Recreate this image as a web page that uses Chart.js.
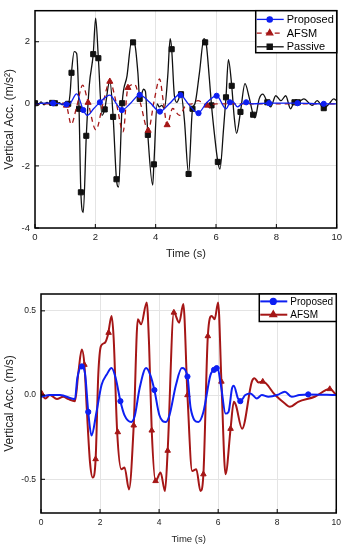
<!DOCTYPE html>
<html>
<head>
<meta charset="utf-8">
<script src="https://cdn.jsdelivr.net/npm/chart.js@4.4.0/dist/chart.umd.min.js"></script>
<style>
  body { margin: 0; background: #fff; }
  canvas { display: block; }
</style>
</head>
<body>
<canvas id="topChart" width="346" height="275"></canvas>
<canvas id="bottomChart" width="346" height="275"></canvas>
<script>
// ---------- data: top chart (vertical acc., m/s^2) ----------
const topProposed = [[0,0],[0.3,0.02],[0.6,0.02],[0.85,0],[1.04,-0.02],[1.15,0],[1.38,0.32],[1.6,-0.2],[1.73,-0.37],
  [1.95,-0.15],[2.15,0.05],[2.48,0.28],[2.7,0],[2.88,-0.2],[3.15,0],[3.47,0.29],[3.8,0.05],[4.14,-0.25],[4.45,0],
  [4.8,0.3],[5.08,0],[5.4,-0.3],[5.7,0.05],[6.02,0.26],[6.33,-0.16],[6.46,0.05],[6.55,0.08],[6.71,-0.1],[6.85,0],
  [7.0,0.05],[7.2,0],[7.76,0.02],[8.7,0.02],[9.57,0],[10,0]];
const topProposedMarks = [[0.6,0.02],[1.04,-0.02],[1.6,-0.2],[2.15,0.05],[2.88,-0.2],[3.47,0.29],[4.14,-0.25],
  [4.82,0.28],[5.42,-0.3],[6.02,0.26],[6.46,0.05],[7.0,0.05],[7.76,0.02],[8.7,0.02],[9.57,0]];

const topAfsm = [[0,0],[0.5,0],[0.9,0.02],[1.04,-0.05],[1.2,-0.66],[1.38,-0.1],[1.58,0.6],[1.76,0.04],[2.02,-0.84],
  [2.25,0],[2.48,0.72],[2.7,0],[2.92,-0.9],[3.08,0.52],[3.3,0.63],[3.5,0],[3.75,-0.86],[3.95,0.1],[4.13,0.8],
  [4.25,0.1],[4.38,-0.68],[4.56,-0.15],[4.79,-0.37],[5.0,-0.05],[5.2,0],[5.4,0.1],[5.71,-0.05],[6.0,0],[10,0]];
const topAfsmMarks = [[1.04,-0.05],[1.76,0.04],[2.48,0.72],[3.08,0.52],[3.75,-0.86],[4.38,-0.68],[5.71,-0.05]];

const topPassive = [[0,0.02],[0.1,-0.05],[0.2,0.06],[0.3,-0.03],[0.4,0.05],[0.5,-0.02],[0.6,0.06],[0.7,-0.04],
  [0.8,0.04],[0.9,-0.03],[1.0,0.05],[1.1,0],[1.16,0.3],[1.21,1.0],[1.3,1.68],[1.38,1.62],[1.46,-0.16],[1.52,-2.85],
  [1.6,-3.5],[1.7,-1.03],[1.8,0.6],[1.93,1.6],[2.01,2.76],[2.1,1.47],[2.22,-0.37],[2.31,-0.18],[2.48,0.75],
  [2.59,-0.42],[2.7,-2.43],[2.77,-2.68],[2.89,0.02],[3.05,0.9],[3.2,2.0],[3.3,1.95],[3.41,1.0],[3.47,0.16],
  [3.6,0.47],[3.66,0.4],[3.74,-1.0],[3.9,-2.62],[3.94,-1.95],[4.05,0],[4.12,-0.1],[4.2,-0.05],[4.29,-0.15],
  [4.4,0.9],[4.48,2.1],[4.53,1.76],[4.62,0.26],[4.7,0.05],[4.84,0.31],[4.95,-0.5],[5.09,-2.26],[5.22,-0.16],
  [5.3,0],[5.45,1.0],[5.6,2.1],[5.68,1.9],[5.78,0.8],[5.85,-0.05],[5.95,-1.0],[6.06,-1.87],[6.13,-2.1],
  [6.25,-0.8],[6.33,0.21],[6.41,1.42],[6.52,0.58],[6.6,-0.4],[6.68,-0.95],[6.81,-0.26],[6.96,0.65],[7.1,0.2],
  [7.23,-0.35],[7.29,-0.45],[7.43,0.16],[7.55,0.31],[7.7,0.05],[7.81,-0.1],[7.98,0.26],[8.15,0.1],[8.31,0.26],
  [8.47,-0.16],[8.6,0.05],[8.71,0.05],[8.91,0.16],[9.19,-0.05],[9.35,0.1],[9.57,-0.14],[9.75,0],[9.9,0.16],[10,0.1]];
const topPassiveMarks = [[0,0.02],[0.57,0.03],[0.66,0.02],[1.1,0],[1.21,1.0],[1.46,-0.16],[1.52,-2.85],[1.7,-1.03],
  [1.93,1.6],[2.1,1.47],[2.31,-0.18],[2.59,-0.42],[2.7,-2.43],[2.89,0.02],[3.25,1.98],[3.47,0.16],[3.74,-1.0],
  [3.94,-1.95],[4.53,1.76],[4.84,0.31],[5.09,-2.26],[5.22,-0.16],[5.64,1.98],[5.85,-0.05],[6.06,-1.87],[6.33,0.21],
  [6.52,0.58],[6.81,-0.26],[7.23,-0.35],[7.7,0.05],[8.6,0.05],[8.71,0.05],[9.57,-0.14]];

const topYTicks = [-4, -2, 0, 2];

// ---------- data: bottom chart (vertical acc., m/s) ----------
const botProposed = [[0,-0.01],[0.31,0],[0.65,0],[1.04,-0.02],[1.15,-0.024],[1.23,0.1],[1.38,0.17],[1.49,0.13],
  [1.6,-0.1],[1.71,-0.24],[1.88,-0.1],[2.05,0.06],[2.22,0.12],[2.39,0.16],[2.53,0.1],[2.69,-0.036],[2.83,-0.12],
  [3.06,-0.16],[3.18,-0.12],[3.34,0.04],[3.56,0.16],[3.7,0.12],[3.84,0.03],[4.01,-0.12],[4.23,-0.16],[4.35,-0.12],
  [4.57,0.06],[4.77,0.16],[4.96,0.11],[5.07,-0.08],[5.33,-0.16],[5.5,-0.1],[5.74,0.12],[5.86,0.15],[5.98,0.16],
  [6.1,0.05],[6.25,-0.11],[6.35,-0.1],[6.47,0.04],[6.53,0.056],[6.67,-0.02],[6.75,-0.036],[6.92,0],[7.09,0.01],
  [7.31,-0.02],[7.48,0],[7.7,-0.01],[8.0,0],[8.26,0.02],[8.49,-0.01],[8.75,0],[9.05,0.004],[10,0]];
const botProposedMarks = [[1.38,0.17],[1.6,-0.1],[2.69,-0.036],[3.84,0.03],[4.96,0.11],[5.86,0.15],[5.95,0.16],
  [6.75,-0.036],[9.05,0.004]];

const botAfsm = [[0,0.01],[0.15,-0.02],[0.3,0],[0.54,-0.024],[0.75,-0.01],[0.93,-0.024],[1.15,-0.036],[1.27,0.14],
  [1.38,0.27],[1.47,0.18],[1.55,-0.08],[1.66,-0.4],[1.75,-0.49],[1.85,-0.38],[1.94,0.12],[2.03,0.29],[2.16,0.31],
  [2.27,0.36],[2.39,0.47],[2.46,0.34],[2.58,-0.22],[2.72,-0.44],[2.83,-0.43],[2.98,-0.56],[3.14,-0.18],[3.28,0.45],
  [3.39,0.42],[3.58,0.55],[3.66,0.3],[3.75,-0.21],[3.88,-0.51],[4.05,-0.46],[4.2,-0.57],[4.29,-0.33],[4.5,0.49],
  [4.68,0.43],[4.82,0.54],[4.96,0],[5.12,-0.45],[5.26,-0.44],[5.4,-0.57],[5.5,-0.47],[5.65,0.35],[5.78,0.47],
  [5.88,0.45],[6.0,0.55],[6.11,0.08],[6.25,-0.47],[6.42,-0.2],[6.53,-0.04],[6.6,-0.06],[6.81,-0.2],[7.14,0.08],
  [7.23,0.1],[7.37,0.075],[7.51,0.08],[7.93,0],[8.26,-0.05],[8.43,-0.07],[8.71,-0.04],[9.27,-0.01],[9.78,0.036],[10,0]];
const botAfsmMarks = [[0.02,0.01],[1.47,0.18],[1.85,-0.38],[2.29,0.37],[2.6,-0.22],[3.14,-0.18],[3.75,-0.21],
  [3.88,-0.51],[4.29,-0.33],[4.5,0.49],[4.96,0],[5.5,-0.47],[5.65,0.35],[6.11,0.08],[6.42,-0.2],[7.51,0.08],[9.78,0.036]];

const botYTicks = [-0.5, 0, 0.5];
const timeTicks = [0, 2, 4, 6, 8, 10];

const BLUE = "#0d1ff2";
const RED = "#a51616";
const BLACK = "#111111";

const pts = arr => arr.map(p => ({ x: p[0], y: p[1] }));

// ------------------- frame, inward ticks and legend -------------------
const framePlugin = {
  id: "frame",
  afterDraw(chart, args, opts) {
    const { ctx, chartArea: a, scales } = chart;
    ctx.save();
    ctx.strokeStyle = "#000";
    ctx.lineWidth = 1;
    ctx.beginPath();
    timeTicks.forEach(t => {
      const x = scales.x.getPixelForValue(t);
      ctx.moveTo(x, a.bottom); ctx.lineTo(x, a.bottom - 4);
    });
    opts.yTicks.forEach(v => {
      const y = scales.y.getPixelForValue(v);
      ctx.moveTo(a.left, y); ctx.lineTo(a.left + 4, y);
    });
    ctx.stroke();
    ctx.lineWidth = 1.5;
    ctx.strokeRect(a.left, a.top, a.right - a.left, a.bottom - a.top);

    // legend box
    const L = opts.legend;
    const bx = a.right - L.w, by = a.top;
    ctx.fillStyle = "#fff";
    ctx.fillRect(bx, by, L.w, L.h);
    ctx.lineWidth = 1.5;
    ctx.strokeRect(bx, by, L.w, L.h);
    L.items.forEach((ds, i) => {
      const y = by + L.first + i * L.row;
      ctx.strokeStyle = ds.color;
      ctx.lineWidth = L.lw;
      ctx.setLineDash(ds.dash || []);
      ctx.beginPath();
      ctx.moveTo(bx + 1, y); ctx.lineTo(bx + 28, y);
      ctx.stroke();
      ctx.setLineDash([]);
      ctx.fillStyle = ds.color;
      ctx.strokeStyle = ds.color;
      Chart.helpers.drawPoint(ctx, { pointStyle: ds.style, radius: ds.radius, rotation: 0, borderWidth: 1 }, bx + 14, y);
      ctx.fillStyle = "#000";
      ctx.font = L.font + "px 'Liberation Sans', Arial, sans-serif";
      ctx.textBaseline = "middle";
      ctx.textAlign = "left";
      ctx.fillText(ds.label, bx + 31, y + 0.5);
    });
    ctx.restore();
  }
};

function lineSet(label, data, color, width, dash, order) {
  return {
    type: "line", label, data: pts(data), borderColor: color, borderWidth: width,
    borderDash: dash, pointRadius: 0, cubicInterpolationMode: "monotone", fill: false, order
  };
}
function markSet(label, data, color, style, radius, order) {
  return {
    type: "scatter", label, data: pts(data), showLine: false, pointStyle: style, pointRadius: radius,
    backgroundColor: color, borderColor: color, borderWidth: 1, order
  };
}

function makeOptions(cfg) {
  const family = "'Liberation Sans', Arial, sans-serif";
  return {
    responsive: false,
    animation: false,
    layout: { padding: { top: cfg.padTop, right: 8, left: 0, bottom: 0 } },
    plugins: {
      legend: { display: false },
      tooltip: { enabled: false },
      frame: { yTicks: cfg.yTicks, legend: cfg.legend }
    },
    scales: {
      x: {
        type: "linear", min: 0, max: 10,
        afterFit: s => { s.height = cfg.xHeight; },
        afterBuildTicks: s => { s.ticks = timeTicks.map(v => ({ value: v })); },
        grid: { color: "#e4e4e4", drawTicks: false },
        border: { display: false },
        ticks: { padding: cfg.xPad, color: "#222", font: { family, size: cfg.tickSize }, maxRotation: 0 },
        title: { display: true, text: "Time (s)", color: "#222", font: { family, size: cfg.xTitleSize },
                 padding: { top: 0, bottom: cfg.xTitlePad } }
      },
      y: {
        min: cfg.yMin, max: cfg.yMax,
        afterFit: s => { s.width = cfg.yWidth; },
        afterBuildTicks: s => { s.ticks = cfg.yTicks.map(v => ({ value: v })); },
        grid: { color: "#e4e4e4", drawTicks: false },
        border: { display: false },
        ticks: { padding: 5, color: "#222", font: { family, size: cfg.tickSize }, callback: cfg.fmt },
        title: { display: true, text: cfg.yTitle, color: "#222", font: { family, size: 12 },
                 padding: { top: 2, bottom: 0 } }
      }
    }
  };
}

// ------------------- top chart -------------------
new Chart(document.getElementById("topChart"), {
  type: "line",
  data: {
    datasets: [
      markSet("Proposed", topProposedMarks, BLUE, "circle", 2.6, 0),
      lineSet("Proposed", topProposed, BLUE, 1.3, [], 1),
      markSet("AFSM", topAfsmMarks, RED, "triangle", 3.5, 2),
      lineSet("AFSM", topAfsm, RED, 1.3, [5, 4], 3),
      markSet("Passive", topPassiveMarks, BLACK, "rect", 3.6, 4),
      lineSet("Passive", topPassive, BLACK, 1.3, [], 5)
    ]
  },
  options: makeOptions({
    padTop: 3, xHeight: 47, yWidth: 35, yMin: -4, yMax: 3, yTicks: topYTicks,
    tickSize: 9.5, xPad: 4, xTitleSize: 11, xTitlePad: 14,
    yTitle: "Vertical Acc. (m/s²)", fmt: v => String(v),
    legend: {
      w: 81, h: 42, first: 8.7, row: 13.7, lw: 1.3, font: 11,
      items: [
        { label: "Proposed", color: BLUE, style: "circle", radius: 2.6 },
        { label: "AFSM", color: RED, style: "triangle", radius: 3.5, dash: [5, 4] },
        { label: "Passive", color: BLACK, style: "rect", radius: 3.6 }
      ]
    }
  }),
  plugins: [framePlugin]
});

// ------------------- bottom chart -------------------
new Chart(document.getElementById("bottomChart"), {
  type: "line",
  data: {
    datasets: [
      markSet("Proposed", botProposedMarks, BLUE, "circle", 2.6, 0),
      lineSet("Proposed", botProposed, BLUE, 2, [], 1),
      markSet("AFSM", botAfsmMarks, RED, "triangle", 3.2, 2),
      lineSet("AFSM", botAfsm, RED, 2, [], 3)
    ]
  },
  options: makeOptions({
    padTop: 19, xHeight: 37, yWidth: 41, yMin: -0.7, yMax: 0.6, yTicks: botYTicks,
    tickSize: 8.5, xPad: 5, xTitleSize: 9.5, xTitlePad: 5,
    yTitle: "Vertical Acc. (m/s)", fmt: v => v.toFixed(1),
    legend: {
      w: 77, h: 27.5, first: 7.4, row: 13.3, lw: 2, font: 10,
      items: [
        { label: "Proposed", color: BLUE, style: "circle", radius: 2.6 },
        { label: "AFSM", color: RED, style: "triangle", radius: 3.2 }
      ]
    }
  }),
  plugins: [framePlugin]
});
</script>
</body>
</html>
